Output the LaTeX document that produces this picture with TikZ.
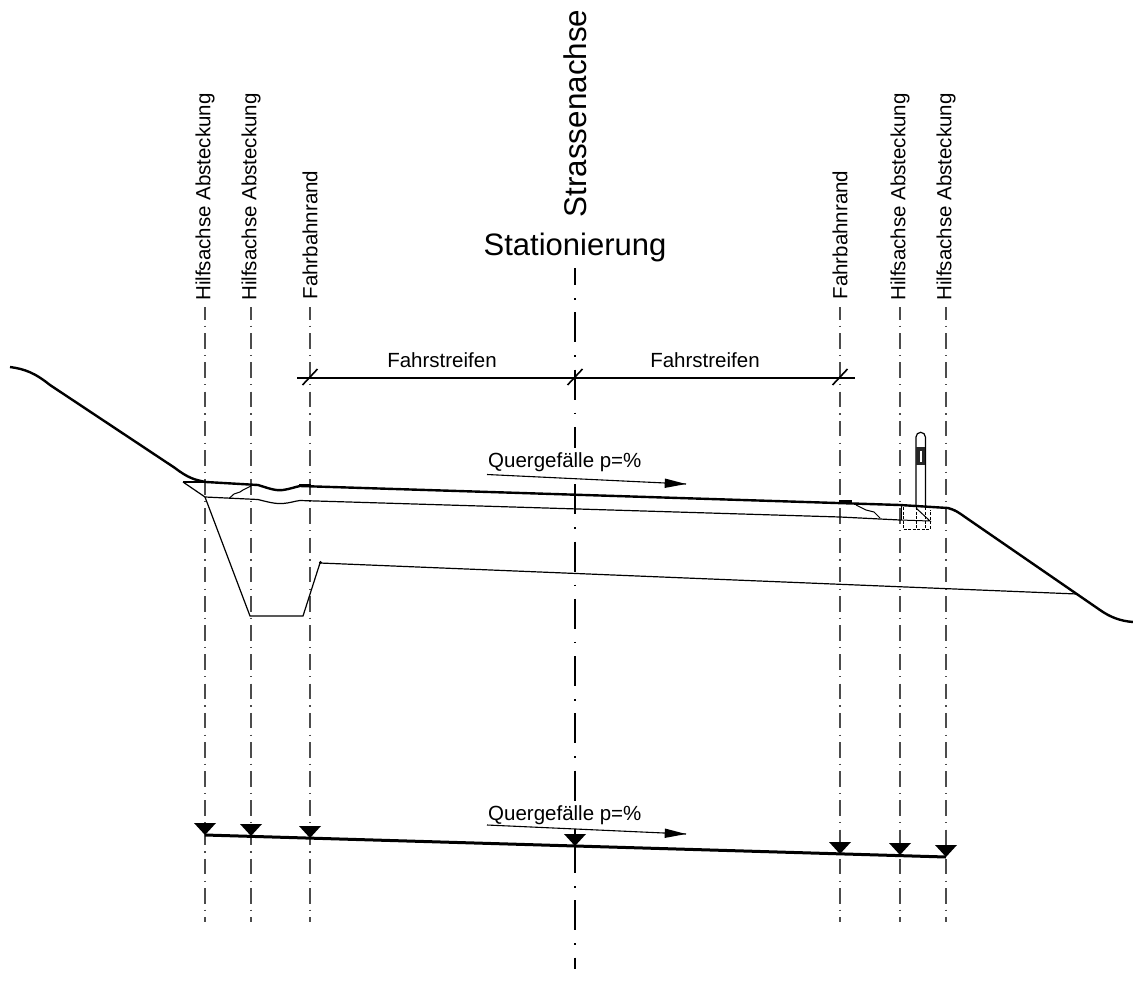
\documentclass[tikz,border=0pt]{standalone}
\usepackage{fontspec}
\setmainfont{Liberation Sans}
\begin{document}
\begin{tikzpicture}[x=1pt,y=-1pt,
  axisline/.style={line width=1.3pt,black!70,dash pattern=on 15.5pt off 6.2pt on 1.3pt off 6.2pt,dash phase=3pt},
  mainaxis/.style={line width=1.3pt,black,dash pattern=on 30pt off 13pt on 1.5pt off 12.8pt},
  smalltext/.style={font=\fontsize{20.5}{20.5}\selectfont,inner sep=0pt},
  bigtext/.style={font=\fontsize{31}{31}\selectfont,inner sep=0pt},
  thin line/.style={line width=1.2pt,black},
  thick line/.style={line width=2.4pt,black,line join=round},
  tick/.style={line width=1.6pt,black},
  marker/.style={fill=black,draw=none},
  arrowline/.style={line width=1.1pt,black}]
\useasboundingbox (0,0) rectangle (1133,996);
% labels
\node[smalltext,rotate=90] (h1) at (205,197) {Hilfsachse Absteckung};
\node[smalltext,rotate=90] (h2) at (251,197) {Hilfsachse Absteckung};
\node[smalltext,rotate=90] (f1) at (310,235) {Fahrbahnrand};
\node[smalltext,rotate=90] (f2) at (840,235) {Fahrbahnrand};
\node[smalltext,rotate=90] (h3) at (900,197) {Hilfsachse Absteckung};
\node[smalltext,rotate=90] (h4) at (946,197) {Hilfsachse Absteckung};
\node[bigtext,font=\fontsize{31.4}{31.4}\selectfont,rotate=90] (sa) at (575,113.5) {Strassenachse};
\node[bigtext] (st) at (575,247) {Stationierung};
% axes
\coordinate (a1t) at (205,307); \coordinate (a1b) at (205,922);
\coordinate (a2t) at (251,307); \coordinate (a2b) at (251,922);
\coordinate (a3t) at (310,307); \coordinate (a3b) at (310,922);
\coordinate (a5t) at (840,307); \coordinate (a5b) at (840,922);
\coordinate (a6t) at (900,307); \coordinate (a6b) at (900,922);
\coordinate (a7t) at (946,307); \coordinate (a7b) at (946,922);
\coordinate (a4t) at (575,268); \coordinate (a4m) at (575,846); \coordinate (a4b) at (575,969);
\foreach \n in {1,2,3,5,6,7} \draw[axisline] (a\n t) -- (a\n b);
\draw[mainaxis,dash phase=13pt] (a4t) -- (a4m);
\draw[mainaxis,dash phase=3pt] (a4m) -- (a4b);
% dimension
\coordinate (dl) at (297,378); \coordinate (dm) at (575,378); \coordinate (dr) at (855,378);
\draw[line width=1.2pt] (dl) -- (dm) -- (dr);
\foreach \x in {310,575,840} \draw[tick] (\x-7.5,385) -- (\x+7.5,369);
\node[smalltext] (fs1) at (442,360) {Fahrstreifen};
\node[smalltext] (fs2) at (705,360) {Fahrstreifen};
% terrain
\draw[thick line] (10,367) .. controls (25,369) and (35,373) .. (50,385) -- (175,468) .. controls (188,478) and (195,480) .. (206,482)
  -- (258,485) .. controls (268,488) and (275,491) .. (283,490) .. controls (290,489) and (295,487) .. (300,486)
  -- (900,505) -- (948,508) .. controls (955,510) and (958,512) .. (965,517) -- (1100,610) .. controls (1110,617) and (1120,621) .. (1133,622);
\fill[marker] (299,483.5) rectangle (311,487);
\fill[marker] (839,499.5) rectangle (852,503);
% layers left
\draw[thin line] (183,482) -- (206,482);
\draw[thin line] (183,482) -- (205,497) -- (258,499.5) .. controls (268,502) and (275,504) .. (283,503.5) .. controls (290,503) and (295,501) .. (300,500.5) -- (840,517) -- (900,520);
\draw[thin line] (205,497) -- (250,616) -- (303,616) -- (320,563) -- (1077,594);
\draw[line width=1pt] (229,498.5) -- (234,494) -- (240,492) -- (243,490) -- (248,487.5) -- (251,486);
\fill (320.5,562.5) circle (1.6pt);
% layers right
\draw[line width=1pt] (856,505) -- (866,510) -- (874,512) -- (880,518);
% post
\draw[thin line] (916,507) -- (916,437) arc[start angle=180,end angle=360,radius=4.7] -- (925.4,507);
\fill[black!85] (916,447) rectangle (925.4,465);
\fill[white] (919.5,450.5) rectangle (922,462);
\draw[line width=1pt] (901,506) -- (901,520);
\draw[line width=1pt,dash pattern=on 3pt off 1.5pt] (903,507) -- (903,529) -- (930,529) -- (930,510);
\draw[line width=1pt,dash pattern=on 3pt off 1.5pt] (916,507) -- (916,529);
\draw[line width=1pt,dash pattern=on 3pt off 1.5pt] (925.4,507) -- (925.4,529);
\draw[line width=1pt] (916,508) -- (930,521) -- (900,520);
\draw[line width=1pt] (948,508) -- (955,510) -- (958,512);
% slope arrows
\node[smalltext,anchor=west,fill=white,inner ysep=4pt] (q1) at (488,462) {Quergefälle p=\%};
\coordinate (q1a) at (487,474.5); \coordinate (q1b) at (686,484);
\draw[arrowline] (q1a) -- (q1b);
\fill (686,484) -- (665,478.5) -- (664.5,488) -- cycle;
\node[smalltext,anchor=west,fill=white,inner ysep=4pt] (q2) at (488,815) {Quergefälle p=\%};
\coordinate (q2a) at (487,825); \coordinate (q2b) at (686,834);
\draw[arrowline] (q2a) -- (q2b);
\fill (686,834) -- (665,828.5) -- (664.5,838) -- cycle;
% bottom line
\draw[line width=3pt] (205,835) -- (946,857);
\foreach \x/\y in {205/835,251/836,310/838,575/846,840/854,900/855,946/857}
  \fill (\x,\y) -- (\x-11,\y-12) -- (\x+11,\y-12) -- cycle;
\end{tikzpicture}
\end{document}
